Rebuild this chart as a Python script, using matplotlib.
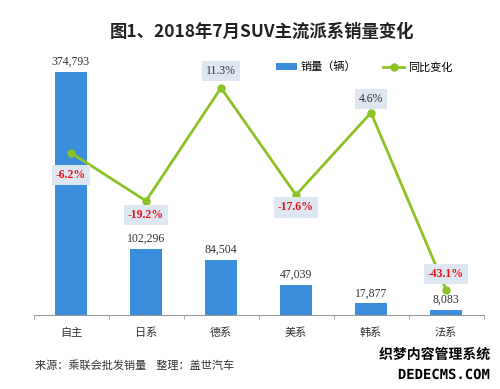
import numpy as np
import matplotlib.pyplot as plt
import matplotlib.patheffects as pe

plt.rcParams['font.family'] = ['Noto Sans CJK SC', 'DejaVu Sans']

categories = ["自主", "日系", "德系", "美系", "韩系", "法系"]
sales = [374793, 102296, 84504, 47039, 17877, 8083]
yoy = [-6.2, -19.2, 11.3, -17.6, 4.6, -43.1]
sales_labels = ["374,793", "102,296", "84,504", "47,039", "17,877", "8,083"]
yoy_labels = ["-6.2%", "-19.2%", "11.3%", "-17.6%", "4.6%", "-43.1%"]

bar_color = "#3a8edb"
line_color = "#8cc226"
box_color = "#dde6f1"

fig = plt.figure(figsize=(5, 3.89), dpi=100)
ax = fig.add_axes([0.067, 0.19, 0.90, 0.667])
x = np.arange(len(categories))

ax.bar(x, sales, width=0.42, color=bar_color, label="销量（辆）", zorder=2)
ax.set_xlim(-0.5, len(categories) - 0.5)
ax.set_ylim(0, 400000)
for xi, v, s in zip(x, sales, sales_labels):
    ax.annotate(s, (xi, v), xytext=(0, 3), textcoords="offset points",
                ha="center", va="bottom", fontsize=8.5, color="#333333",
                family=["Liberation Serif", "DejaVu Serif"])

for side in ["top", "right", "left"]:
    ax.spines[side].set_visible(False)
ax.spines["bottom"].set_color("#999999")
ax.set_yticks([])
ax.set_xticks(x)
ax.set_xticklabels(categories, fontsize=8, color="#333333")
ax.tick_params(axis="x", length=0, pad=9)
ax.set_xticks(np.arange(-0.5, len(categories)), minor=True)
ax.tick_params(axis="x", which="minor", length=3, color="#999999", direction="out")

ax2 = ax.twinx()
ax2.set_ylim(-50, 20)
ax2.axis("off")
ax2.plot(x, yoy, color=line_color, lw=2, marker="o", ms=5, label="同比变化", zorder=3)

# label offsets in points (below for most negatives, above for positives)
offsets = [-16, -10, 12, -9, 10, 11]
for xi, v, s, off in zip(x, yoy, yoy_labels, offsets):
    neg = v < 0
    ax2.annotate(s, (xi, v), xytext=(0, off), textcoords="offset points",
                 ha="center", va="center", fontsize=8.5,
                 fontweight="bold" if neg else "normal",
                 color="#e8141c" if neg else "#333333",
                 family=["Liberation Serif", "DejaVu Serif"],
                 bbox=dict(boxstyle="square,pad=0.35", fc=box_color, ec="none"),
                 zorder=5)

h1, l1 = ax.get_legend_handles_labels()
h2, l2 = ax2.get_legend_handles_labels()
ax2.legend(h1 + h2, l1 + l2, loc="center left", bbox_to_anchor=(0.552, 1 - 67 / 389),
           bbox_transform=fig.transFigure, borderaxespad=0, borderpad=0,
           ncol=2, frameon=False, fontsize=8, handlelength=1.9, handleheight=0.5,
           columnspacing=2.4, handletextpad=0.35)

fig.text(0.525, 0.918, "图1、2018年7月SUV主流派系销量变化", ha="center", va="center",
         fontsize=12.5, fontweight="bold", color="#222222")
fig.text(0.07, 0.06, "来源：乘联会批发销量    整理：盖世汽车", ha="left", va="center",
         fontsize=8, color="#333333", style="italic")
wm = fig.text(0.98, 0.088, "织梦内容管理系统", ha="right", va="center", fontsize=10,
              fontweight="bold", color="black")
wm2 = fig.text(0.98, 0.036, "DEDECMS.COM", ha="right", va="center", fontsize=10,
               fontweight="bold", color="black", family=["DejaVu Sans Mono", "DejaVu Sans"])
for t in (wm, wm2):
    t.set_path_effects([pe.withStroke(linewidth=2, foreground="white")])

fig.savefig("out.png", dpi=100, facecolor="white")
